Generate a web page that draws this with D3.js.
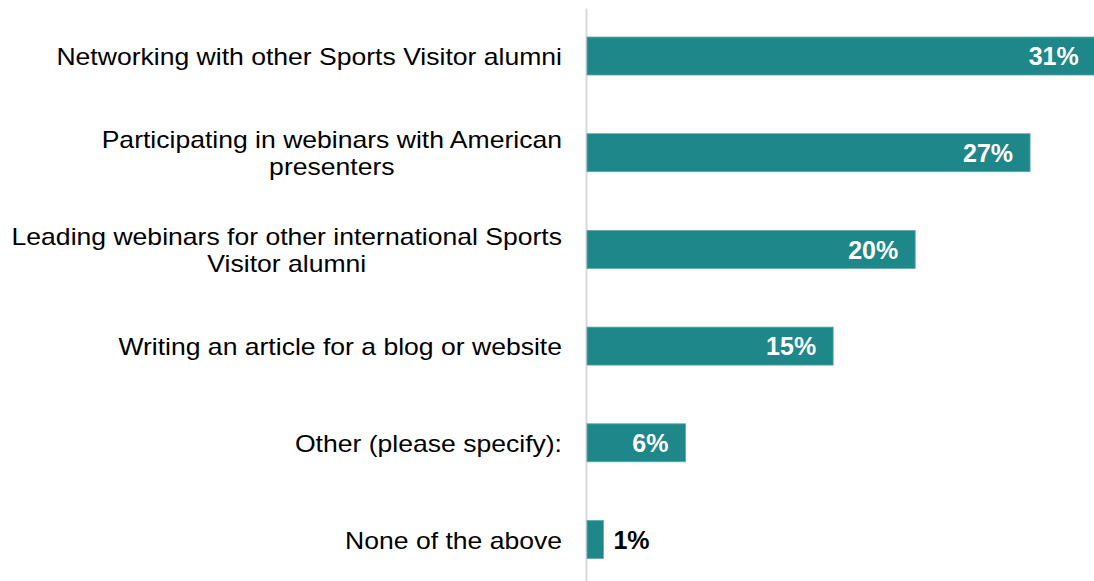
<!DOCTYPE html>
<html>
<head>
<meta charset="utf-8">
<script src="https://cdn.jsdelivr.net/npm/d3@7"></script>
<style>
  html, body { margin: 0; padding: 0; background: #ffffff; }
  svg { display: block; }
  text { font-family: "Liberation Sans", Arial, Helvetica, sans-serif; }
</style>
</head>
<body>
<svg id="chart" width="1094" height="581"></svg>
<script>
// Survey activities and the share of respondents choosing each
const categories = [
  "Networking with other Sports Visitor alumni",
  "Participating in webinars with American presenters",
  "Leading webinars for other international Sports Visitor alumni",
  "Writing an article for a blog or website",
  "Other (please specify):",
  "None of the above"
];
const values = [31, 27, 20, 15, 6, 1];

const svg = d3.select("#chart");

const x0 = 587;
const x = d3.scaleLinear().domain([0, 31]).range([x0, x0 + 31 * 16.41]);
const y = d3.scaleBand()
  .domain(categories)
  .range([8, 587.5])
  .paddingInner(0.607)
  .paddingOuter(0.3);

// vertical baseline of the bars
const axis = svg.append("g")
  .attr("transform", `translate(${x0 - 1},0)`)
  .call(d3.axisLeft(y).tickSize(0).tickFormat(""));
axis.select(".domain").attr("stroke", "#d9d9d9").attr("stroke-width", 2);

const rows = categories.map((c, i) => ({ cat: c, val: values[i] }));

// bars
svg.append("g").selectAll("rect")
  .data(rows)
  .join("rect")
  .attr("x", x(0))
  .attr("y", d => y(d.cat))
  .attr("width", d => x(d.val) - x(0))
  .attr("height", y.bandwidth())
  .attr("fill", "#1e8789")
  .attr("stroke", "#5ea9aa")
  .attr("stroke-width", 0.8);

// category labels: wrapped, lines centred within a right-aligned block
const labelFont = 23, stretch = 1.155, lineH = 27.5, maxW = 490;
const labels = svg.append("g").selectAll("g")
  .data(rows)
  .join("g")
  .attr("transform", d => `translate(562,${y(d.cat) + y.bandwidth() / 2}) scale(${stretch},1)`);

labels.each(function (d) {
  const g = d3.select(this);
  const t = g.append("text")
    .attr("text-anchor", "middle")
    .attr("font-size", labelFont)
    .attr("fill", "#000");
  const probe = t.append("tspan");
  const measure = s => { probe.text(s); return probe.node().getComputedTextLength(); };
  const words = d.cat.split(" ");
  const lines = [];
  let cur = [];
  words.forEach(w => {
    if (measure(cur.concat(w).join(" ")) > maxW && cur.length) {
      lines.push(cur.join(" "));
      cur = [w];
    } else {
      cur.push(w);
    }
  });
  lines.push(cur.join(" "));
  const blockW = d3.max(lines, measure);
  probe.remove();
  const first = 9 - (lines.length - 1) * lineH / 2;
  lines.forEach((ln, i) => {
    t.append("tspan")
      .attr("x", -blockW / 2)
      .attr("y", first + i * lineH)
      .text(ln);
  });
});

// value labels
svg.append("g").selectAll("text")
  .data(rows)
  .join("text")
  .attr("x", d => d.val >= 3 ? x(d.val) - 17 : x(d.val) + 10)
  .attr("y", d => y(d.cat) + y.bandwidth() / 2)
  .attr("dy", "0.37em")
  .attr("text-anchor", d => d.val >= 3 ? "end" : "start")
  .attr("font-size", 25)
  .attr("font-weight", "bold")
  .attr("fill", d => d.val >= 3 ? "#ffffff" : "#000000")
  .text(d => d.val + "%");
</script>
</body>
</html>
